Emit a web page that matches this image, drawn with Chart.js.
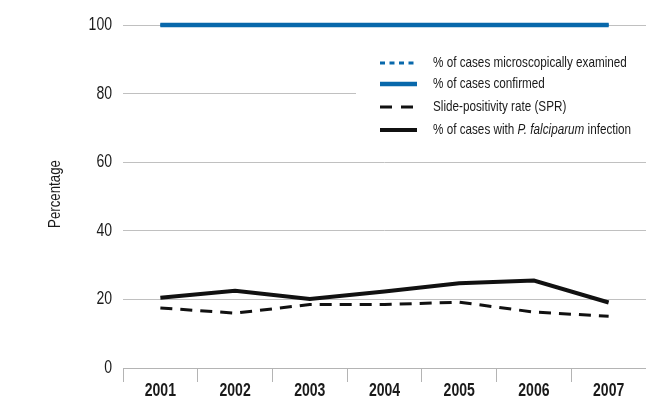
<!DOCTYPE html>
<html>
<head>
<meta charset="utf-8">
<script src="https://cdn.jsdelivr.net/npm/chart.js@4.4.0/dist/chart.umd.min.js"></script>
<style>
  html, body { margin: 0; padding: 0; background: #fff; }
  #wrap { width: 646px; height: 399px; position: relative; }
</style>
</head>
<body>
<div id="wrap"><canvas id="myChart" width="646" height="399"></canvas></div>
<script>
// data
const years = ['2001', '2002', '2003', '2004', '2005', '2006', '2007'];
const examined = [100, 100, 100, 100, 100, 100, 100];
const confirmed = [100, 100, 100, 100, 100, 100, 100];
const spr = [17.5, 16.0, 18.5, 18.5, 19.2, 16.3, 15.1];
const falciparum = [20.5, 22.5, 20.1, 22.3, 24.7, 25.5, 19.1];
const yTicks = [0, 20, 40, 60, 80, 100];
const yTitle = 'Percentage';

const FONT = '"Liberation Sans", Arial, sans-serif';
const SQUEEZE = 0.78; // the original uses a condensed face, no narrow font installed here
const BLUE = '#0868ab';
const INK = '#1a1a1a';

function squeezedText(ctx, text, x, y, font, align, rot) {
  ctx.save();
  ctx.translate(x, y);
  if (rot) ctx.rotate(rot);
  ctx.scale(SQUEEZE, 1);
  ctx.font = font;
  ctx.fillStyle = INK;
  ctx.textAlign = align;
  ctx.textBaseline = 'middle';
  ctx.fillText(text, 0, 0);
  ctx.restore();
}

// tick labels + axis title, placed with the chart's own scales
const axisText = {
  id: 'axisText',
  afterDraw(chart) {
    const ctx = chart.ctx;
    const xs = chart.scales.x, ys = chart.scales.y;
    ys.ticks.forEach(t => {
      squeezedText(ctx, String(t.value), 112, ys.getPixelForValue(t.value), '18px ' + FONT, 'right');
    });
    xs.ticks.forEach((t, i) => {
      squeezedText(ctx, xs.getLabelForValue(t.value), xs.getPixelForTick(i), 391, 'bold 18px ' + FONT, 'center');
    });
    squeezedText(ctx, yTitle, 55, 194, '17px ' + FONT, 'center', -Math.PI / 2);
  }
};

// legend drawn inside the plot on a white box (covers the 80 gridline like the original)
const boxLegend = {
  id: 'boxLegend',
  afterDatasetsDraw(chart) {
    const ctx = chart.ctx;
    ctx.save();
    ctx.fillStyle = '#fff';
    ctx.fillRect(356, 44, 290, 100);
    const rows = [63, 84, 107, 130];
    chart.data.datasets.forEach((ds, i) => {
      const y = rows[i];
      ctx.beginPath();
      ctx.strokeStyle = ds.borderColor;
      ctx.lineWidth = ds.borderWidth;
      ctx.setLineDash(ds.legendDash || []);
      ctx.moveTo(380, y);
      ctx.lineTo(417, y);
      ctx.stroke();
      ctx.setLineDash([]);
      // *text* -> italic
      ctx.save();
      ctx.translate(433, y);
      ctx.scale(SQUEEZE, 1);
      ctx.fillStyle = INK;
      ctx.textBaseline = 'middle';
      let x = 0;
      ds.label.split('*').forEach((part, k) => {
        ctx.font = (k % 2 ? 'italic ' : '') + '15px ' + FONT;
        ctx.fillText(part, x, 0);
        x += ctx.measureText(part).width;
      });
      ctx.restore();
    });
    ctx.restore();
  }
};

const ctx = document.getElementById('myChart').getContext('2d');
new Chart(ctx, {
  type: 'line',
  data: {
    labels: years,
    datasets: [
      {
        label: '% of cases microscopically examined',
        data: examined,
        borderColor: BLUE,
        borderWidth: 3,
        borderDash: [5, 4.5],
        legendDash: [5, 4.5],
        order: 2
      },
      {
        label: '% of cases confirmed',
        data: confirmed,
        borderColor: BLUE,
        borderWidth: 4.5,
        order: 1
      },
      {
        label: 'Slide-positivity rate (SPR)',
        data: spr,
        borderColor: '#111',
        borderWidth: 3,
        borderDash: [12, 8],
        legendDash: [12, 9],
        order: 1
      },
      {
        label: '% of cases with *P. falciparum* infection',
        data: falciparum,
        borderColor: '#111',
        borderWidth: 4,
        order: 1
      }
    ]
  },
  options: {
    responsive: false,
    animation: false,
    layout: { padding: { top: 25, right: 0, bottom: 0, left: 0 } },
    elements: {
      point: { radius: 0 },
      line: { tension: 0, borderCapStyle: 'butt', fill: false }
    },
    datasets: { line: { clip: false } },
    plugins: {
      legend: { display: false },
      tooltip: { enabled: false }
    },
    scales: {
      x: {
        offset: true,
        grid: { offset: true, drawOnChartArea: false, tickLength: 14, color: '#b4b4b4', lineWidth: 1 },
        border: { color: '#b4b4b4' },
        ticks: { display: false },
        afterFit(scale) { scale.height = 31; }
      },
      y: {
        min: 0,
        max: 100,
        afterBuildTicks(scale) { scale.ticks = yTicks.map(v => ({ value: v })); },
        grid: { drawTicks: false, color: '#c0c0c0', lineWidth: 1 },
        border: { display: false },
        ticks: { display: false },
        afterFit(scale) { scale.width = 123; }
      }
    }
  },
  plugins: [boxLegend, axisText]
});
</script>
</body>
</html>
